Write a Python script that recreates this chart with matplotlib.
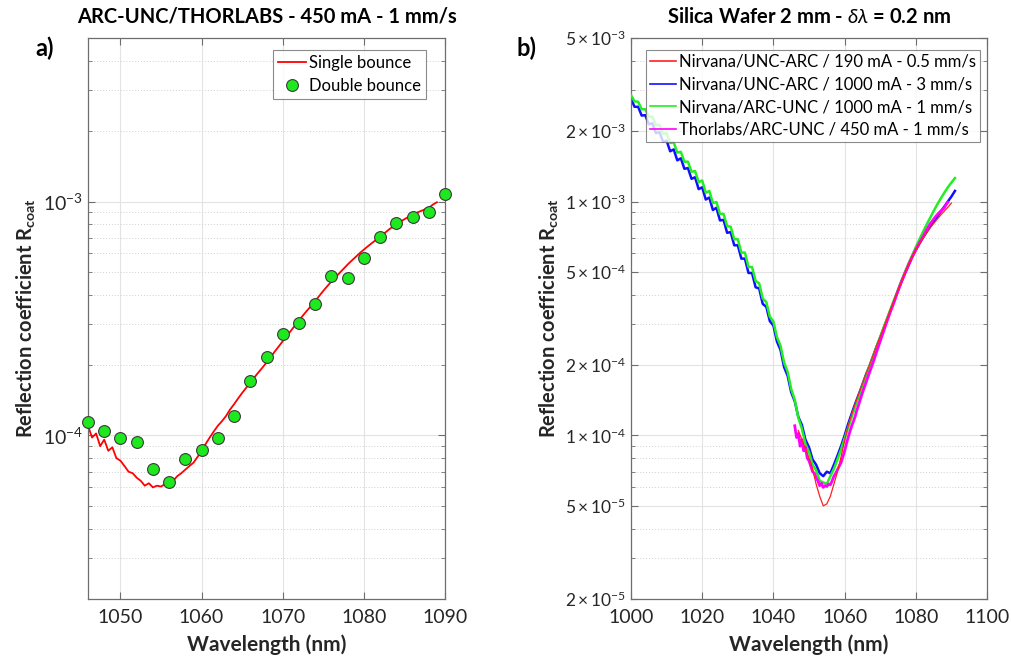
import matplotlib
matplotlib.use('Agg')
import matplotlib.pyplot as plt
import numpy as np
from matplotlib.ticker import FixedLocator, NullFormatter, LogLocator

plt.rcParams['font.family'] = ['Lato', 'DejaVu Sans']
plt.rcParams['mathtext.fontset'] = 'custom'
plt.rcParams['mathtext.rm'] = 'Lato'
plt.rcParams['mathtext.it'] = 'Lato:italic'
plt.rcParams['mathtext.bf'] = 'Lato:bold'

# ---------------- data (values in units of 1e-4) ----------------
# Thorlabs / ARC-UNC, 450 mA, 1 mm/s  (single bounce), 1046 nm .. 1089 nm, step 0.5 nm
single_start, single_step = 1046.0, 0.5
single_vals = [
    1.10, 0.98, 1.02, 0.90, 0.96, 0.86, 0.89, 0.80, 0.78, 0.74,
    0.70, 0.69, 0.66, 0.64, 0.61, 0.625, 0.60, 0.61, 0.605, 0.62,
    0.615, 0.64, 0.67, 0.69, 0.715, 0.74, 0.765, 0.81, 0.857, 0.92,
    0.98, 1.04, 1.10, 1.15, 1.21, 1.29, 1.36, 1.44, 1.52, 1.60,
    1.68, 1.77, 1.86, 1.95, 2.05, 2.16, 2.28, 2.40, 2.53, 2.66,
    2.80, 2.95, 3.10, 3.26, 3.42, 3.58, 3.75, 3.95, 4.15, 4.35,
    4.55, 4.75, 4.95, 5.16, 5.38, 5.59, 5.80, 6.02, 6.23, 6.44,
    6.65, 6.85, 7.06, 7.30, 7.55, 7.78, 8.02, 8.20, 8.40, 8.60,
    8.78, 8.95, 9.10, 9.25, 9.40, 9.70, 9.93,
]

# double bounce, 1046 .. 1090 nm, step 2 nm
double_start, double_step = 1046.0, 2.0
double_vals = [1.14, 1.05, 0.98, 0.94, 0.72, 0.634, 0.795, 0.869, 0.98, 1.21,
               1.71, 2.16, 2.72, 3.04, 3.63, 4.81, 4.73, 5.74, 7.08, 8.13,
               8.60, 9.03, 10.8]

# Nirvana/UNC-ARC, 190 mA, 0.5 mm/s  (1047 .. 1090 nm, step 1 nm)
red_start, red_step = 1047.0, 1.0
red_vals = [1.05, 0.96, 0.88, 0.80, 0.72, 0.62, 0.55, 0.50, 0.51, 0.55,
            0.62, 0.70, 0.81, 0.95,
            1.10, 1.23, 1.37, 1.51, 1.66, 1.83, 2.00, 2.20, 2.42, 2.65,
            2.90, 3.18, 3.48, 3.82, 4.18, 4.57, 4.98, 5.40, 5.82, 6.22,
            6.60, 6.98, 7.35, 7.70, 8.05, 8.40, 8.75, 9.10, 9.45, 9.85]

# Nirvana/UNC-ARC, 1000 mA, 3 mm/s  (1000 .. 1091 nm, step 1 nm)
blue_start, blue_step = 1000.0, 1.0
blue_vals = [27.5, 25.4, 25.4, 23.3, 23.4, 21.4, 21.6, 19.6, 19.8, 18.0,
             18.2, 16.4, 16.7, 15.0, 15.3, 13.8, 13.9, 12.5, 12.7, 11.3,
             11.5, 10.2, 10.4, 9.2, 9.4, 8.3, 8.35, 7.35, 7.4, 6.5,
             6.5, 5.7, 5.7, 4.95, 4.95, 4.3, 4.25, 3.65, 3.55, 3.08,
             2.95, 2.52, 2.32, 1.96, 1.80, 1.53, 1.40, 1.20, 1.11, 0.96,
             0.89, 0.79, 0.75, 0.69, 0.67, 0.70, 0.69, 0.75, 0.82, 0.90,
             1.00,
             1.12, 1.24, 1.37, 1.50, 1.65, 1.82, 1.98, 2.18, 2.40, 2.62,
             2.88, 3.16, 3.46, 3.80, 4.15, 4.55, 4.95, 5.35, 5.80, 6.20,
             6.60, 7.00, 7.40, 7.80, 8.20, 8.60, 9.05, 9.50, 10.0, 10.5, 11.1]

# Nirvana/ARC-UNC, 1000 mA, 1 mm/s  (1000 .. 1091 nm, step 1 nm)
green_start, green_step = 1000.0, 1.0
green_vals = [28.5, 26.8, 26.7, 24.8, 24.8, 23.0, 23.1, 21.2, 21.3, 19.5,
              19.6, 17.8, 17.9, 16.2, 16.3, 14.8, 14.8, 13.4, 13.5, 12.1,
              12.3, 10.9, 11.1, 9.85, 9.95, 8.85, 8.85, 7.85, 7.8, 6.9,
              6.9, 6.05, 6.05, 5.25, 5.25, 4.58, 4.47, 3.85, 3.72, 3.22,
              3.07, 2.63, 2.42, 2.05, 1.87, 1.58, 1.42, 1.19, 1.07, 0.92,
              0.85, 0.75, 0.71, 0.64, 0.63, 0.62, 0.67, 0.72, 0.79, 0.87,
              0.97,
              1.08, 1.20, 1.33, 1.47, 1.63, 1.80, 1.98, 2.18, 2.40, 2.64,
              2.90, 3.18, 3.50, 3.83, 4.20, 4.60, 5.02, 5.45, 5.90, 6.38,
              6.88, 7.40, 7.95, 8.50, 9.10, 9.70, 10.3, 10.9, 11.5, 12.05, 12.6]

left_title = 'ARC-UNC/THORLABS - 450 mA - 1 mm/s'
right_title = r'Silica Wafer 2 mm - $\delta\lambda$ = 0.2 nm'
left_yticks = [1e-4, 1e-3]
left_yticklabels = [r'$10^{-4}$', r'$10^{-3}$']
left_xticks = [1050, 1060, 1070, 1080, 1090]
right_yticks = [2e-5, 5e-5, 1e-4, 2e-4, 5e-4, 1e-3, 2e-3, 5e-3]
right_yticklabels = [r'$2\times10^{-5}$', r'$5\times10^{-5}$', r'$1\times10^{-4}$',
                     r'$2\times10^{-4}$', r'$5\times10^{-4}$', r'$1\times10^{-3}$',
                     r'$2\times10^{-3}$', r'$5\times10^{-3}$']
right_xticks = [1000, 1020, 1040, 1060, 1080, 1100]
legend_right = ['Nirvana/UNC-ARC / 190 mA - 0.5 mm/s',
                'Nirvana/UNC-ARC / 1000 mA - 3 mm/s',
                'Nirvana/ARC-UNC / 1000 mA - 1 mm/s',
                'Thorlabs/ARC-UNC / 450 mA - 1 mm/s']


def series(start, step, vals):
    v = np.array(vals) * 1e-4
    x = start + step * np.arange(len(v))
    return x, v


xs, ys = series(single_start, single_step, single_vals)
xd, yd = series(double_start, double_step, double_vals)
xr, yr = series(red_start, red_step, red_vals)
xb, yb = series(blue_start, blue_step, blue_vals)
xg, yg = series(green_start, green_step, green_vals)

fig = plt.figure(figsize=(10.11, 6.60), dpi=100)
W, H = 1011, 660
ax1 = fig.add_axes([88 / W, (H - 599) / H, 357 / W, 561 / H])
ax2 = fig.add_axes([631 / W, (H - 599) / H, 356 / W, 561 / H])

txt_col = '#262626'
spine_col = '#6e6e6e'


def style(ax):
    ax.set_yscale('log')
    ax.set_ylim(2e-5, 5e-3)
    ax.yaxis.set_minor_locator(LogLocator(base=10, subs=np.arange(2, 10)))
    ax.yaxis.set_minor_formatter(NullFormatter())
    ax.tick_params(which='both', direction='in', top=True, right=True,
                   colors=spine_col, labelcolor=txt_col, labelsize=14)
    ax.tick_params(which='major', length=5, width=0.8)
    ax.tick_params(which='minor', length=3, width=0.6)
    ax.tick_params(axis='x', which='minor', top=False, bottom=False)
    ax.tick_params(axis='x', which='major', pad=7)
    ax.grid(True, which='major', color='#e3e3e3', lw=0.8, ls='-')
    ax.grid(True, which='minor', axis='y', color='#d0d0d0', lw=0.7, ls=(0, (1, 2)))
    ax.set_axisbelow(True)
    for s in ax.spines.values():
        s.set_color(spine_col)
        s.set_linewidth(0.9)
    ax.set_xlabel('Wavelength (nm)', fontsize=15, fontweight='bold', color=txt_col)
    ax.xaxis.label.set_va('center')
    ax.xaxis.set_label_coords(0.5, -0.082)


# ---------------- left panel ----------------
style(ax1)
ax1.set_xlim(1046, 1090)
ax1.xaxis.set_major_locator(FixedLocator(left_xticks))
ax1.yaxis.set_major_locator(FixedLocator(left_yticks))
ax1.set_yticklabels(left_yticklabels)
ax1.plot(xs, ys, color='#ff0000', lw=1.3, label='Single bounce')
ax1.plot(xd, yd, 'o', color='#1ee81e', mec='#3a3a3a', mew=0.8, ms=8.5, label='Double bounce',
         clip_on=False, zorder=5)
ax1.set_title(left_title, fontsize=14.5, fontweight='bold', pad=11)
ax1.set_ylabel(r'Reflection coefficient R$_{\mathbf{coat}}$', fontsize=14.5, fontweight='bold',
               color=txt_col)
ax1.yaxis.label.set_va('center')
ax1.yaxis.set_label_coords(-0.176, 0.5)
leg1 = ax1.legend(loc='upper right', bbox_to_anchor=(0.955, 0.985), fontsize=12, frameon=True,
                  fancybox=False, edgecolor='#6e6e6e', handlelength=1.7, handletextpad=0.15,
                  borderpad=0.3, labelspacing=0.45, borderaxespad=0.2)
leg1.get_frame().set_linewidth(0.8)

# ---------------- right panel ----------------
style(ax2)
ax2.set_xlim(1000, 1100)
ax2.xaxis.set_major_locator(FixedLocator(right_xticks))
ax2.yaxis.set_major_locator(FixedLocator(right_yticks))
ax2.set_yticklabels(right_yticklabels)
ax2.tick_params(axis='y', labelsize=12.5)
ax2.plot(xr, yr, color='#ff2020', lw=0.9, label=legend_right[0], zorder=4)
ax2.plot(xb, yb, color='#1010ff', lw=1.8, label=legend_right[1], zorder=2)
ax2.plot(xg, yg, color='#22ee22', lw=1.8, label=legend_right[2], zorder=3)
ax2.plot(xs, ys, color='#ff00ff', lw=2.0, label=legend_right[3], zorder=3)
ax2.set_title(right_title, fontsize=14.5, fontweight='bold', pad=11)
ax2.set_ylabel(r'Reflection coefficient R$_{\mathbf{coat}}$', fontsize=14.5, fontweight='bold',
               color=txt_col)
ax2.yaxis.label.set_va('center')
ax2.yaxis.set_label_coords(-0.232, 0.5)
leg2 = ax2.legend(loc='upper right', bbox_to_anchor=(0.99, 0.985), fontsize=12, frameon=True,
                  fancybox=False, edgecolor='#6e6e6e', handlelength=1.6, handletextpad=0.15,
                  borderpad=0.25, labelspacing=0.4, borderaxespad=0.2)
leg2.get_frame().set_linewidth(0.8)
for h in leg2.get_lines():
    h.set_linewidth(1.2)

fig.text(45 / W, 1 - 48 / H, 'a)', fontsize=17, fontweight='bold', ha='center', va='center')
fig.text(527 / W, 1 - 48 / H, 'b)', fontsize=17, fontweight='bold', ha='center', va='center')

fig.savefig('out.png', dpi=100)
